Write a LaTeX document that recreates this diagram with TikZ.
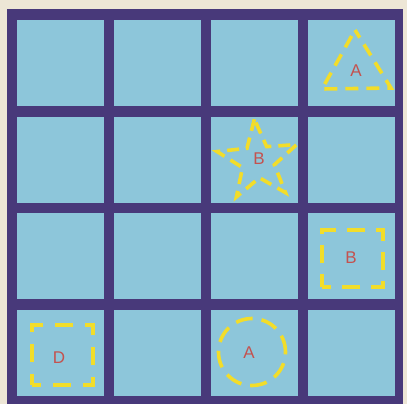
\documentclass[tikz,border=0pt]{standalone}
\usepackage{fontspec}
\setmainfont{Liberation Sans}
\usetikzlibrary{shapes.geometric}
\definecolor{paper}{HTML}{EDE6D6}
\definecolor{frame}{HTML}{48397A}
\definecolor{tile}{HTML}{8DC6DA}
\definecolor{mark}{HTML}{F2DD2A}
\definecolor{letter}{HTML}{C4524F}
\tikzset{
  cell/.style={fill=tile, draw=none, minimum width=87pt, minimum height=86pt, inner sep=0pt},
  dashy/.style={draw=mark, line width=3.6pt, dash pattern=on 13pt off 8pt},
  lbl/.style={text=letter, font=\fontsize{17}{17}\selectfont, inner sep=0pt}
}
\begin{document}
\begin{tikzpicture}[x=1pt,y=-1pt]
\useasboundingbox (0,0) rectangle (407,404);
\fill[paper] (0,0) rectangle (407,404);
\fill[frame] (7,9) rectangle (403,410);
% cells
\foreach \r/\y in {1/63,2/159.5,3/256,4/353}{
  \foreach \c/\x in {1/60.5,2/157.5,3/254.5,4/351.5}{
    \node[cell] (c\r\c) at (\x,\y) {};
  }
}
% triangle (row 1, col 4)
\coordinate (ta) at (355,30);
\coordinate (tl) at (322,89);
\coordinate (tr) at (391,88);
\draw[dashy, dash phase=4pt] (ta) -- (tr) -- (tl) -- cycle;
\node[lbl] (la) at (356,71) {A};
% star (row 2, col 3)
\node[star, star points=5, star point ratio=2.5, minimum size=84pt, inner sep=0pt,
      dashy, dash pattern=on 12pt off 7pt, rotate=5] (st) at (258,161) {};
\node[lbl] (lb1) at (259,159) {B};
% square (row 3, col 4)
\node[rectangle, minimum width=61pt, minimum height=57pt, inner sep=0pt, dashy,
      dash pattern=on 18pt off 11pt, dash phase=9pt] (sq1) at (352.5,258.5) {};
\node[lbl] (lb2) at (351,258) {B};
% square (row 4, col 1)
\node[rectangle, minimum width=61pt, minimum height=60pt, inner sep=0pt, dashy,
      dash pattern=on 18pt off 12pt, dash phase=9pt] (sq2) at (62.5,355) {};
\node[lbl] (ld) at (59,358) {D};
% circle (row 4, col 3)
\node[circle, minimum size=67pt, inner sep=0pt, dashy, dash pattern=on 17pt off 9pt] (ci) at (252,352) {};
\node[lbl] (la2) at (249,353) {A};
\end{tikzpicture}
\end{document}
